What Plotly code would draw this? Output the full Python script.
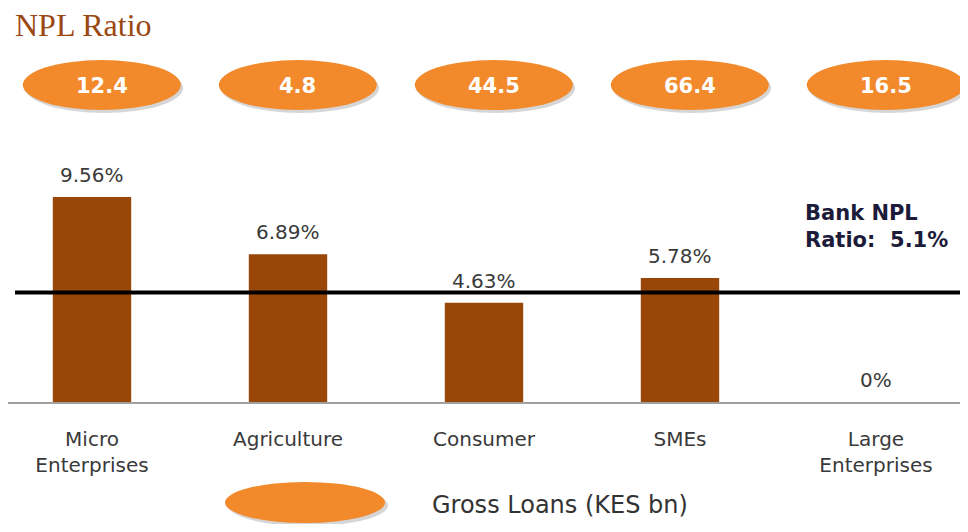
import plotly.graph_objects as go

# data
categories = ["Micro<br>Enterprises", "Agriculture", "Consumer", "SMEs", "Large<br>Enterprises"]
npl_ratio = [9.56, 6.89, 4.63, 5.78, 0]
gross_loans = [12.4, 4.8, 44.5, 66.4, 16.5]
bank_npl = 5.1

# the page body has an 8px margin, so the figure is drawn 8px smaller
# and every reference pixel position is shifted by that amount
BODY = 8
W, H = 968 - 2 * BODY, 532 - 2 * BODY
PLOT_TOP, PLOT_BOTTOM = 150, 402          # reference pixel rows
BAR_COLOR = "#994709"
ELLIPSE_COLOR = "#F28A2C"
TEXT_COLOR = "#3a3a3a"
FONT = "DejaVu Sans"


def py(y):
    # reference pixel row -> paper y
    return (PLOT_BOTTOM - y) / (PLOT_BOTTOM - PLOT_TOP)


def px(x):
    # reference pixel column -> paper x
    return (x - BODY) / W


idx = list(range(len(categories)))
first_center, step = 92 - BODY, 196       # px of first category, px per category
x_start = -first_center / step

fig = go.Figure()
fig.add_trace(go.Bar(
    x=idx,
    y=npl_ratio,
    width=0.4,
    marker=dict(color=BAR_COLOR, line=dict(width=0)),
    hoverinfo="skip",
))

# bar value labels
for i, v in zip(idx, npl_ratio):
    fig.add_annotation(
        x=i, y=v, xref="x", yref="y",
        text=f"{v:g}%", showarrow=False,
        yanchor="middle", yshift=22,
        font=dict(family=FONT, size=20, color=TEXT_COLOR),
    )

# bank NPL ratio line
fig.add_shape(
    type="line", xref="paper", yref="y",
    x0=px(15), x1=1, y0=bank_npl, y1=bank_npl,
    line=dict(color="black", width=4),
)
fig.add_annotation(
    xref="paper", yref="paper", x=px(803), y=py(226),
    xanchor="left", yanchor="middle", align="left",
    text=f"<b>Bank NPL<br>Ratio:  {bank_npl}%</b>", showarrow=False,
    font=dict(family=FONT, size=21, color="#1C1C3A"),
)

# gross loans ellipses
off = 0.05
half_w = 0.403
for i, g in zip(idx, gross_loans):
    fig.add_shape(
        type="circle", xref="x", yref="paper",
        x0=i + off - half_w + 0.012, x1=i + off + half_w + 0.012,
        y0=py(113), y1=py(63),
        fillcolor="rgba(0,0,0,0.16)", line=dict(width=0),
    )
    fig.add_shape(
        type="circle", xref="x", yref="paper",
        x0=i + off - half_w, x1=i + off + half_w,
        y0=py(110), y1=py(60),
        fillcolor=ELLIPSE_COLOR, line=dict(width=0),
    )
    fig.add_annotation(
        x=i + off, y=py(86), xref="x", yref="paper",
        xanchor="center", yanchor="middle",
        text=f"<b>{g}</b>", showarrow=False,
        font=dict(family=FONT, size=21, color="white"),
    )

# legend
fig.add_shape(
    type="circle", xref="paper", yref="paper",
    x0=px(228), x1=px(388), y0=py(526), y1=py(485),
    fillcolor="rgba(0,0,0,0.16)", line=dict(width=0),
)
fig.add_shape(
    type="circle", xref="paper", yref="paper",
    x0=px(225), x1=px(385), y0=py(523), y1=py(482),
    fillcolor=ELLIPSE_COLOR, line=dict(width=0),
)
fig.add_annotation(
    xref="paper", yref="paper", x=px(430), y=py(505),
    xanchor="left", yanchor="middle",
    text="Gross Loans (KES bn)", showarrow=False,
    font=dict(family=FONT, size=24, color="#333333"),
)

fig.update_layout(
    width=W, height=H,
    margin=dict(l=0, r=0, t=PLOT_TOP - BODY, b=H - (PLOT_BOTTOM - BODY), pad=0),
    paper_bgcolor="white", plot_bgcolor="white",
    showlegend=False,
    title=dict(
        text="NPL Ratio", x=px(15), xanchor="left",
        y=1 - (25 - BODY) / H, yanchor="middle",
        font=dict(family="Liberation Serif", size=32, color="#9A4812"),
    ),
    xaxis=dict(
        range=[x_start, x_start + W / step],
        tickmode="array", tickvals=idx, ticktext=categories,
        tickfont=dict(family=FONT, size=20, color=TEXT_COLOR),
        showgrid=False, zeroline=False,
        showline=True, linecolor="#A0A0A0", linewidth=2,
        ticks="", ticklabelstandoff=18,
    ),
    yaxis=dict(
        range=[0, (PLOT_BOTTOM - PLOT_TOP) / 21.45],
        visible=False, showgrid=False, zeroline=False,
    ),
)

fig.write_html("out.html")
